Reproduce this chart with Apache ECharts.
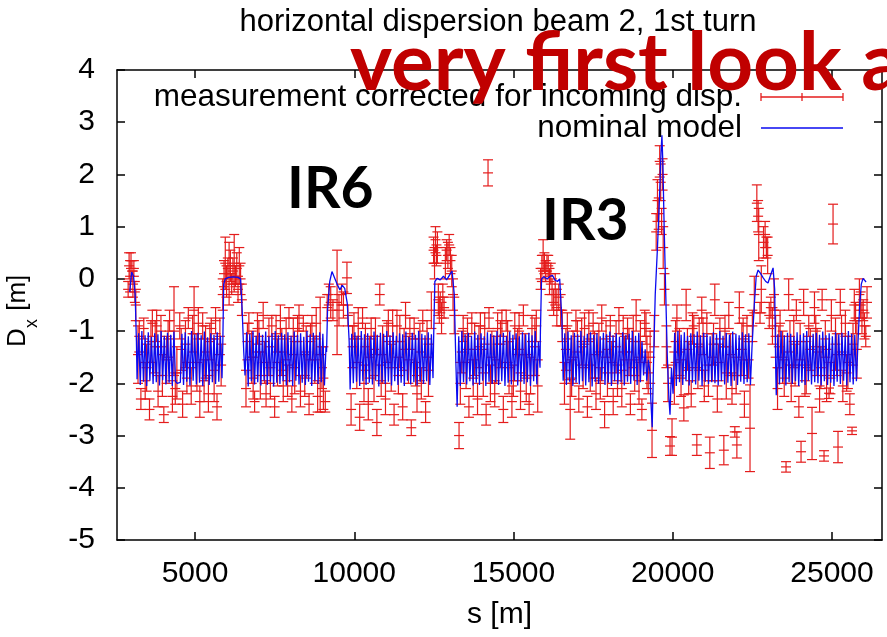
<!DOCTYPE html>
<html>
<head>
<meta charset="utf-8">
<title>horizontal dispersion beam 2, 1st turn</title>
<script src="https://cdn.jsdelivr.net/npm/echarts@6/dist/echarts.min.js"></script>
<style>
  html, body { margin: 0; padding: 0; background: #fff; }
  #chart { width: 887px; height: 637px; }
</style>
</head>
<body>
<div id="chart"></div>
<script>
// axis ticks
var xTicks = [5000, 10000, 15000, 20000, 25000];

// nominal model, arcs: [start s, end s] and dispersion values along the arc
var arcStart = [3180, 6570, 9870, 13230, 16560, 20010, 23250];
var arcEnd = [5847, 9113, 12472, 15832, 19286, 22489, 25817];
var arc1 = [-1.92,-1.04,-2.03,-1.0,-1.97,-1.08,-2.05,-1.02,-1.95,-1.11,-2.01,-1.04,-1.98,-1.06,-2.04,-1.0,-1.94,-1.09,-2.02,-1.03,-1.99,-1.07,-2.05,-1.01,-1.96,-2.0,-2.01,-1.98,-1.05,-2.03,-1.02,-1.97,-1.1,-2.04,-1.0,-1.95,-1.06,-2.02,-1.03,-1.99,-1.08,-2.05,-1.01,-1.96,-1.12,-2.03,-1.04,-1.98,-1.07,-2.01,-1.02,-1.97,-1.09,-1.9];
var arc2 = [-1.85,-1.02,-2.06,-1.05,-1.96,-1.0,-2.02,-1.09,-1.98,-1.03,-2.04,-1.07,-1.95,-1.01,-2.03,-1.1,-1.97,-1.04,-2.06,-1.0,-1.99,-1.08,-2.01,-1.03,-1.96,-1.06,-2.04,-1.02,-1.98,-1.09,-2.05,-1.01,-1.95,-1.07,-2.02,-1.04,-1.99,-1.11,-2.03,-1.0,-1.97,-1.06,-2.05,-1.03,-1.96,-1.08,-2.01,-1.02,-1.98,-1.05,-2.04,-1.3];
var arc3 = [-2.12,-1.05,-2.0,-1.02,-1.97,-1.09,-2.05,-1.0,-1.96,-1.06,-2.03,-1.04,-1.99,-1.1,-2.02,-1.01,-1.95,-1.07,-2.06,-1.03,-1.98,-1.05,-2.01,-1.0,-1.97,-1.08,-2.04,-1.02,-1.96,-1.09,-2.03,-1.04,-1.99,-1.06,-2.05,-1.01,-1.95,-1.11,-2.02,-1.03,-1.98,-1.07,-2.04,-1.0,-1.97,-1.05,-2.01,-1.08,-1.96,-1.02,-2.03,-1.06,-1.9];
var arc4 = [-2.45,-1.1,-2.05,-1.0,-1.98,-1.06,-2.02,-1.03,-1.96,-1.09,-2.04,-1.01,-1.99,-1.07,-2.03,-1.04,-1.95,-1.1,-2.05,-1.02,-1.97,-1.05,-2.01,-1.08,-1.98,-1.0,-2.03,-1.06,-1.96,-1.03,-2.05,-1.09,-1.99,-1.01,-2.02,-1.07,-1.95,-1.04,-2.04,-1.1,-1.97,-1.02,-2.01,-1.06,-1.98,-1.03,-2.05,-1.08,-1.96,-1.0,-2.02,-1.2,-1.7];
var arc5 = [-1.95,-1.04,-2.03,-1.01,-1.97,-1.08,-2.05,-1.03,-1.99,-1.06,-2.02,-1.0,-1.96,-1.09,-2.04,-1.05,-1.98,-1.02,-2.06,-1.07,-1.97,-1.04,-2.01,-1.1,-1.95,-1.03,-2.03,-1.06,-1.99,-1.01,-2.05,-1.08,-1.96,-1.04,-2.02,-1.11,-1.98,-1.02,-2.04,-1.07,-1.97,-1.05,-2.01,-1.0,-1.95,-1.09,-2.03,-1.03,-1.98,-1.2,-1.85,-1.35,-1.95,-1.55,-1.8];
var arc6 = [-2.2,-1.03,-2.05,-1.0,-1.98,-1.07,-2.03,-1.02,-1.96,-1.09,-2.04,-1.04,-1.99,-1.06,-2.02,-1.01,-1.95,-1.08,-2.05,-1.03,-1.97,-1.05,-2.01,-1.1,-1.98,-1.02,-2.0,-1.06,-2.04,-1.0,-1.96,-1.09,-2.02,-1.03,-1.99,-1.07,-2.05,-1.01,-1.95,-1.05,-2.03,-1.08,-1.97,-1.02,-2.01,-1.06,-1.98,-1.04,-2.03,-1.3];
var arc7 = [-2.23,-1.06,-2.02,-1.0,-1.97,-1.08,-2.04,-1.03,-1.98,-1.05,-2.01,-1.1,-1.96,-1.02,-2.05,-1.07,-1.99,-1.04,-2.03,-1.0,-1.95,-1.09,-2.02,-1.05,-1.98,-1.03,-2.0,-1.07,-2.04,-1.01,-1.96,-1.08,-2.03,-1.04,-1.99,-1.1,-2.05,-1.02,-1.97,-1.06,-2.01,-1.03,-1.95,-1.09,-2.04,-1.0,-1.98,-1.05,-2.02,-1.07,-1.96,-1.2];
var arcValues = [arc1, arc2, arc3, arc4, arc5, arc6, arc7];

// nominal model in the insertions [s, Dx]
var modelIR = [
  [2950,-0.25],[3010,0.13],[3070,0.05],[3120,-0.3],[3160,-1.2],
  [5870,-1.3],[5900,-0.1],[5950,0.0],[6050,0.03],[6200,0.04],[6350,0.03],[6430,0.0],[6480,-0.6],[6530,-1.4],
  [9130,-1.4],[9160,-0.6],[9230,-0.05],[9300,0.14],[9380,0.02],[9460,-0.1],[9550,-0.21],[9620,-0.12],[9700,-0.18],[9780,-0.47],[9840,-1.2],
  [12490,-1.2],[12530,-0.05],[12600,0.01],[12700,-0.02],[12800,0.05],[12900,-0.02],[13000,0.08],[13070,0.15],[13140,-0.3],[13190,-1.6],
  [15845,-1.0],[15880,0.0],[15950,0.04],[16050,0.0],[16150,0.05],[16220,0.07],[16300,-0.02],[16380,-0.05],[16450,0.0],[16520,-0.8],
  [19310,-2.3],[19355,-2.84],[19400,-1.5],[19450,-0.3],[19520,0.6],[19580,1.5],[19630,2.4],[19660,2.75],[19690,2.2],[19730,1.0],[19780,-0.3],[19830,-1.5],[19880,-2.3],[19914,-2.6],[19960,-1.7],
  [22505,-1.3],[22560,-0.5],[22620,0.05],[22680,0.17],[22760,0.1],[22840,0.02],[22920,-0.05],[22990,-0.08],[23060,0.05],[23150,0.21],[23200,-0.2],[23235,-1.8],
  [25835,-1.2],[25870,-0.5],[25920,-0.1],[25975,0.01],[26030,-0.02],[26070,-0.06]
];

// measurement corrected for incoming dispersion [s, Dx, error]
var measIR = [
  [2900,-0.2,0.15],[2930,0.25,0.25],[2960,0.05,0.3],[2990,0.35,0.15],[3020,0.15,0.2],[3050,-0.1,0.25],[3080,0.2,0.15],[3110,-0.25,0.2],[3140,-0.5,0.3],
  [5870,-0.3,0.3],[5910,0.1,0.25],[5950,0.3,0.5],[5990,-0.05,0.3],[6030,0.2,0.2],[6070,0.1,0.6],[6110,0.25,0.3],[6150,-0.1,0.2],[6190,0.15,0.25],[6230,0.3,0.55],[6270,0.05,0.2],[6310,0.2,0.3],[6350,-0.2,0.25],[6390,0.25,0.35],[6430,0.0,0.3],[6470,-0.4,0.3],
  [9150,-0.55,0.25],[9200,-0.3,0.2],[9260,-0.45,0.3],[9330,-0.6,0.2],[9460,-0.45,1.0],[9520,-0.6,0.3],[9600,-0.3,0.2],[9660,-0.5,0.25],[9770,0.02,0.3],[9800,-0.7,0.2],
  [12490,0.55,0.25],[12520,0.3,0.3],[12550,0.75,0.25],[12580,0.45,0.2],[12610,0.6,0.3],[12640,-0.4,0.3],[12670,-0.6,0.25],[12700,-0.45,0.2],[12740,-0.75,0.3],[12780,-0.35,0.25],[12820,-0.55,0.2],[12860,0.3,0.3],[12900,0.55,0.2],[12940,0.45,0.25],[12980,0.65,0.2],[13020,0.35,0.25],[13060,0.15,0.3],[13100,-0.3,0.3],[13140,-0.7,0.35],
  [14200,2.03,0.25],
  [15850,0.0,0.2],[15890,0.2,0.25],[15930,0.45,0.3],[15970,0.3,0.2],[16010,0.15,0.2],[16050,0.3,0.15],[16090,0.25,0.2],[16130,-0.05,0.25],[16170,0.1,0.2],[16210,-0.3,0.3],[16260,-0.45,0.25],[16310,-0.2,0.3],[16360,-0.55,0.35],[16420,-0.35,0.25],[16480,-0.6,0.3],[16530,-0.9,0.3],
  [19230,-1.8,0.4],[19290,-1.5,0.5],[19349,-2.9,0.52],[19420,-1.0,0.3],[19480,0.9,0.35],[19520,1.5,0.4],[19560,1.25,0.3],[19590,2.25,0.3],[19620,1.85,0.35],[19650,1.1,0.25],[19680,2.0,0.3],[19700,0.6,0.4],[19740,-0.2,0.3],[19800,-1.3,0.4],[19850,-2.0,0.35],[19914,-3.2,0.18],
  [22500,-0.9,0.3],[22560,-0.3,0.35],[22640,1.45,0.35],[22680,1.2,0.3],[22700,0.85,0.5],[22740,-0.65,0.2],[22780,-0.2,0.45],[22850,0.7,0.3],[22900,0.85,0.25],[22940,0.6,0.2],[22980,0.45,0.35],[23030,-0.7,0.25],[23080,-0.55,0.2],[23130,-0.9,0.35],[23180,-0.3,0.3],[23230,-1.1,0.4],
  [25860,-0.3,0.3],[25900,-0.5,0.25],[25940,-0.75,0.3],[25980,-0.6,0.2],[26020,-0.9,0.25],[26060,-1.1,0.2],[26100,-0.45,0.3]
];
var measArc = [
  [3210,-1.45,0.55],[3300,-2.3,0.2],[3390,-0.95,0.2],[3480,-1.7,0.45],[3570,-2.5,0.2],[3660,-0.85,0.25],[3750,-1.3,0.5],[3840,-2.15,0.3],[3930,-1.0,0.3],[4020,-2.6,0.15],[4110,-1.55,0.45],[4200,-0.8,0.2],[4290,-2.25,0.3],[4340,-1.0,0.85],[4430,-1.8,0.5],[4520,-0.9,0.25],[4610,-2.4,0.25],[4700,-1.25,0.45],[4790,-0.75,0.2],[4880,-2.05,0.35],[4970,-0.6,0.45],[5060,-1.6,0.55],[5150,-2.35,0.3],[5240,-0.9,0.25],[5330,-1.4,0.5],[5420,-2.2,0.35],[5510,-0.95,0.2],[5600,-1.75,0.6],[5690,-2.45,0.25],[5780,-1.1,0.35],
  [6600,-2.1,0.35],[6690,-0.85,0.2],[6780,-1.5,0.5],[6870,-2.35,0.2],[6960,-0.95,0.3],[7050,-1.85,0.45],[7140,-0.7,0.25],[7230,-2.2,0.25],[7320,-1.3,0.55],[7410,-0.9,0.2],[7500,-2.45,0.2],[7590,-1.6,0.45],[7680,-0.8,0.3],[7770,-2.05,0.3],[7860,-1.15,0.4],[7950,-0.75,0.2],[8040,-2.3,0.25],[8130,-1.7,0.5],[8220,-0.95,0.25],[8310,-2.15,0.3],[8400,-0.85,0.15],[8490,-1.4,0.5],[8580,-2.4,0.2],[8670,-0.9,0.2],[8760,-1.55,0.45],[8850,-2.25,0.3],[8930,-1.45,1.1],[9030,-1.9,0.6],[9090,-2.35,0.2],
  [9900,-2.5,0.3],[9990,-0.9,0.25],[10080,-1.6,0.5],[10170,-2.65,0.25],[10260,-0.75,0.2],[10350,-1.3,0.45],[10440,-2.4,0.3],[10530,-0.95,0.2],[10620,-1.85,0.5],[10710,-2.75,0.25],[10800,-0.3,0.2],[10890,-1.45,0.55],[10980,-2.3,0.3],[11070,-0.85,0.25],[11160,-1.7,0.45],[11250,-2.6,0.2],[11340,-0.9,0.3],[11430,-1.2,0.5],[11520,-2.45,0.25],[11610,-0.7,0.25],[11700,-1.55,0.45],[11790,-2.85,0.15],[11880,-0.95,0.2],[11970,-2.2,0.35],[12060,-1.4,0.55],[12150,-0.8,0.2],[12240,-2.55,0.2],[12330,-1.75,0.5],[12420,-0.6,0.35],
  [13290,-3.0,0.25],[13330,-2.0,0.4],[13420,-0.95,0.25],[13510,-1.6,0.5],[13600,-2.45,0.2],[13690,-0.85,0.2],[13780,-1.35,0.5],[13870,-2.3,0.3],[13960,-0.9,0.25],[14050,-1.8,0.45],[14140,-2.6,0.2],[14230,-0.75,0.2],[14320,-1.5,0.5],[14410,-2.2,0.25],[14500,-0.95,0.3],[14590,-1.25,0.45],[14680,-2.5,0.25],[14770,-0.8,0.2],[14860,-1.7,0.5],[14950,-2.35,0.3],[15040,-0.9,0.25],[15130,-1.45,0.5],[15220,-2.15,0.35],[15310,-0.7,0.2],[15400,-1.9,0.45],[15490,-2.4,0.2],[15580,-0.95,0.25],[15670,-1.3,0.55],[15760,-2.05,0.5],
  [16600,-2.0,0.4],[16690,-0.9,0.25],[16780,-2.5,0.57],[16870,-1.5,0.5],[16960,-0.8,0.2],[17050,-2.3,0.25],[17140,-1.2,0.45],[17230,-0.95,0.3],[17320,-2.45,0.2],[17410,-1.65,0.5],[17500,-0.85,0.2],[17590,-2.2,0.3],[17680,-1.4,0.55],[17770,-0.75,0.25],[17860,-2.6,0.25],[17950,-1.8,0.45],[18040,-0.9,0.2],[18130,-2.35,0.25],[18220,-1.3,0.5],[18310,-0.8,0.25],[18400,-2.1,0.35],[18490,-1.55,0.45],[18580,-0.95,0.2],[18670,-2.4,0.2],[18760,-1.2,0.5],[18850,-0.7,0.3],[18940,-1.95,0.45],[19030,-2.5,0.2],[19120,-0.85,0.25],[19190,-1.6,0.5],
  [19977,-3.03,0.35],[20050,-1.9,0.5],[20130,-0.75,0.25],[20210,-1.4,0.45],[20348,-2.47,0.25],[20420,-0.5,0.3],[20500,-1.7,0.5],[20580,-2.2,0.25],[20660,-0.9,0.2],[20756,-3.18,0.2],[20830,-1.25,0.5],[20910,-0.6,0.25],[20990,-2.05,0.3],[21070,-0.85,0.2],[21164,-3.33,0.3],[21240,-1.5,0.45],[21320,-0.4,0.3],[21400,-2.3,0.25],[21480,-0.95,0.2],[21604,-3.28,0.28],[21680,-1.8,0.5],[21760,-0.7,0.25],[21860,-2.1,0.3],[21949,-2.93,0.1],[22013,-3.18,0.25],[22090,-0.55,0.3],[22170,-1.35,0.5],[22250,-2.4,0.25],[22330,-0.9,0.2],[22426,-2.86,0.83],
  [23290,-2.1,0.4],[23370,-0.85,0.25],[23450,-1.5,0.5],[23557,-3.6,0.1],[23640,-0.3,0.3],[23720,-2.0,0.35],[23800,-1.2,0.5],[23880,-0.6,0.2],[23960,-2.45,0.2],[24028,-3.31,0.2],[24110,-0.45,0.25],[24190,-1.7,0.5],[24270,-0.9,0.2],[24373,-2.96,0.5],[24450,-0.55,0.3],[24530,-1.4,0.45],[24610,-2.3,0.25],[24690,-0.4,0.2],[24750,-3.39,0.1],[24830,-1.85,0.5],[24907,-2.19,0.1],[24980,-0.7,0.3],[25033,1.05,0.38],[25110,-1.25,0.5],[25189,-3.22,0.3],[25260,-0.45,0.25],[25340,-2.05,0.3],[25420,-0.85,0.25],[25500,-1.6,0.5],[25560,-2.4,0.2],[25629,-2.91,0.07],[25700,-0.5,0.3],[25780,-1.35,0.55]
];
// more arc monitors sitting inside the model band
var measArcBand = [
  [3250,-1.1,0.3],[3435,-1.95,0.35],[3615,-1.2,0.4],[3795,-0.9,0.3],[3975,-1.85,0.4],[4155,-1.15,0.35],[4380,-2.1,0.3],[4565,-1.35,0.4],[4745,-1.9,0.3],[4925,-1.05,0.35],[5105,-0.85,0.3],[5285,-1.95,0.4],[5465,-1.2,0.35],[5645,-0.8,0.25],[5820,-1.65,0.4],
  [6645,-1.2,0.35],[6825,-1.9,0.4],[7005,-1.1,0.3],[7185,-1.6,0.4],[7365,-2.0,0.3],[7545,-1.05,0.35],[7725,-1.4,0.45],[7905,-1.95,0.3],[8085,-1.1,0.35],[8265,-0.75,0.25],[8445,-1.85,0.4],[8625,-1.2,0.35],[8805,-0.85,0.3],[8985,-1.7,0.4],
  [9945,-1.3,0.4],[10125,-0.85,0.3],[10305,-2.0,0.35],[10485,-1.5,0.4],[10665,-1.1,0.35],[10845,-1.95,0.3],[11025,-1.2,0.4],[11205,-0.9,0.3],[11385,-1.85,0.35],[11565,-1.35,0.4],[11745,-1.05,0.3],[11925,-1.6,0.45],[12105,-2.0,0.3],[12285,-1.15,0.35],
  [13375,-1.4,0.4],[13555,-1.05,0.3],[13735,-1.9,0.35],[13915,-1.3,0.4],[14095,-0.95,0.3],[14275,-2.0,0.35],[14455,-1.55,0.45],[14635,-0.85,0.25],[14815,-1.2,0.4],[14995,-1.95,0.3],[15175,-1.0,0.35],[15355,-1.45,0.4],[15535,-1.85,0.35],[15715,-0.9,0.3],
  [16645,-1.35,0.4],[16825,-1.9,0.35],[17005,-1.1,0.3],[17185,-1.7,0.4],[17365,-0.9,0.3],[17545,-1.45,0.45],[17725,-2.0,0.3],[17905,-1.15,0.35],[18085,-1.6,0.4],[18265,-1.95,0.3],[18445,-1.05,0.35],[18625,-1.4,0.45],[18805,-1.85,0.3],[18985,-1.2,0.4],[19160,-0.95,0.3],
  [20090,-1.2,0.4],[20260,-1.9,0.35],[20460,-1.35,0.4],[20620,-0.95,0.3],[20790,-1.7,0.4],[20950,-1.1,0.35],[21120,-1.95,0.3],[21280,-1.25,0.4],[21440,-1.6,0.35],[21640,-1.0,0.3],[21810,-1.45,0.4],[21990,-1.85,0.35],[22210,-1.15,0.4],[22380,-1.55,0.35],
  [23330,-1.3,0.4],[23500,-1.9,0.35],[23680,-1.1,0.3],[23840,-1.65,0.4],[24000,-1.2,0.35],[24150,-1.95,0.3],[24320,-1.35,0.4],[24490,-1.0,0.3],[24650,-1.7,0.4],[24790,-1.15,0.35],[24950,-1.9,0.3],[25150,-1.45,0.4],[25300,-1.05,0.35],[25460,-1.8,0.35],[25660,-1.25,0.4],[25740,-0.75,0.3]
];

var RED = '#e41c1c';
var BLUE = '#0a0af0';
var FONT = 'Liberation Sans';

// model line: insertion points plus arcs (arc points sit at regular BPM spacing)
var model = modelIR.slice();
for (var a = 0; a < arcValues.length; a++) {
  var vals = arcValues[a];
  var step = (arcEnd[a] - arcStart[a]) / (vals.length - 1);
  for (var k = 0; k < vals.length; k++) {
    model.push([arcStart[a] + k * step, vals[k]]);
  }
}
model.sort(function (p, q) { return p[0] - q[0]; });

var measured = measIR.concat(measArc, measArcBand);

var myChart = echarts.init(document.getElementById('chart'));

// error bar with caps and centre tick, like gnuplot's "with errorbars"
function renderErrorBar(params, api) {
  var s = api.value(0), d = api.value(1), e = api.value(2);
  var hi = api.coord([s, d + e]);
  var lo = api.coord([s, d - e]);
  var mid = api.coord([s, d]);
  var w = 5;
  var st = { stroke: RED, lineWidth: 1.2 };
  return {
    type: 'group',
    children: [
      { type: 'line', shape: { x1: hi[0], y1: hi[1], x2: lo[0], y2: lo[1] }, style: st },
      { type: 'line', shape: { x1: hi[0] - w, y1: hi[1], x2: hi[0] + w, y2: hi[1] }, style: st },
      { type: 'line', shape: { x1: lo[0] - w, y1: lo[1], x2: lo[0] + w, y2: lo[1] }, style: st },
      { type: 'line', shape: { x1: mid[0] - w, y1: mid[1], x2: mid[0] + w, y2: mid[1] }, style: st }
    ]
  };
}

var axisLine = { show: true, onZero: false, lineStyle: { color: '#000', width: 1.5 } };
var tickLine = { color: '#000', width: 1.5 };

var option = {
  backgroundColor: '#fff',
  animation: false,
  grid: { left: 117, right: 5, top: 70, bottom: 97 },
  xAxis: [{
    type: 'value', min: 2550, max: 26570, position: 'bottom',
    axisLine: axisLine,
    axisTick: { show: true, inside: true, length: 8, customValues: xTicks, lineStyle: tickLine },
    axisLabel: {
      customValues: xTicks, color: '#000', fontFamily: FONT, fontSize: 30, margin: 19,
      formatter: function (v) { return String(v); }
    },
    splitLine: { show: false },
    name: 's [m]', nameLocation: 'middle', nameGap: 60,
    nameTextStyle: { color: '#000', fontFamily: FONT, fontSize: 30 }
  }, {
    type: 'value', min: 2550, max: 26570, position: 'top',
    axisLine: axisLine,
    axisTick: { show: true, inside: true, length: 8, customValues: xTicks, lineStyle: tickLine },
    axisLabel: { show: false },
    splitLine: { show: false }
  }],
  yAxis: [{
    type: 'value', min: -5, max: 4, interval: 1, position: 'left',
    axisLine: axisLine,
    axisTick: { show: true, inside: true, length: 8, lineStyle: tickLine },
    axisLabel: { color: '#000', fontFamily: FONT, fontSize: 30, margin: 22 },
    splitLine: { show: false }
  }, {
    type: 'value', min: -5, max: 4, interval: 1, position: 'right',
    axisLine: axisLine,
    axisTick: { show: true, inside: true, length: 8, lineStyle: tickLine },
    axisLabel: { show: false },
    splitLine: { show: false }
  }],
  series: [{
    name: 'measurement corrected for incoming disp.',
    type: 'custom',
    renderItem: renderErrorBar,
    data: measured,
    encode: { x: 0, y: 1 },
    clip: true,
    z: 2
  }, {
    name: 'nominal model',
    type: 'line',
    data: model,
    showSymbol: false,
    symbol: 'none',
    lineStyle: { color: BLUE, width: 1.3 },
    clip: true,
    z: 3
  }],
  graphic: [
    { type: 'text', x: 498, y: 22, z: 50,
      style: { text: 'horizontal dispersion beam 2, 1st turn', fill: '#000', fontFamily: FONT, fontSize: 31, align: 'center', verticalAlign: 'middle' } },
    // legend
    { type: 'text', x: 742, y: 97, z: 50,
      style: { text: 'measurement corrected for incoming disp.', fill: '#000', fontFamily: FONT, fontSize: 31.5, align: 'right', verticalAlign: 'middle' } },
    { type: 'text', x: 742, y: 128, z: 50,
      style: { text: 'nominal model', fill: '#000', fontFamily: FONT, fontSize: 31.5, align: 'right', verticalAlign: 'middle' } },
    { type: 'line', z: 50, shape: { x1: 761, y1: 97, x2: 843, y2: 97 }, style: { stroke: RED, lineWidth: 1.3 } },
    { type: 'line', z: 50, shape: { x1: 761, y1: 93, x2: 761, y2: 101 }, style: { stroke: RED, lineWidth: 1.3 } },
    { type: 'line', z: 50, shape: { x1: 802, y1: 93, x2: 802, y2: 101 }, style: { stroke: RED, lineWidth: 1.3 } },
    { type: 'line', z: 50, shape: { x1: 843, y1: 93, x2: 843, y2: 101 }, style: { stroke: RED, lineWidth: 1.3 } },
    { type: 'line', z: 50, shape: { x1: 761, y1: 128, x2: 843, y2: 128 }, style: { stroke: BLUE, lineWidth: 1.3 } },
    // y axis name D_x [m]
    { type: 'group', x: 18, y: 347, rotation: Math.PI / 2, z: 50,
      children: [
        { type: 'text', x: 0, y: 0, style: { text: 'D', fill: '#000', fontFamily: FONT, fontSize: 26, verticalAlign: 'middle' } },
        { type: 'text', x: 19, y: 14, style: { text: 'x', fill: '#000', fontFamily: FONT, fontSize: 18, verticalAlign: 'middle' } },
        { type: 'text', x: 29, y: 0, style: { text: ' [m]', fill: '#000', fontFamily: FONT, fontSize: 26, verticalAlign: 'middle' } }
      ] },
    // slide annotations
    { type: 'text', x: 287, y: 190, z: 60,
      style: { text: 'IR6', fill: '#000', fontFamily: 'Lato', fontWeight: 'bold', fontSize: 57, verticalAlign: 'middle' } },
    { type: 'text', x: 542, y: 222, z: 60,
      style: { text: 'IR3', fill: '#000', fontFamily: 'Lato', fontWeight: 'bold', fontSize: 57, verticalAlign: 'middle' } },
    { type: 'text', x: 350, y: 64, z: 60,
      style: { text: 'very first look a', fill: '#c00000', fontFamily: 'Lato', fontWeight: 'bold', fontSize: 80, verticalAlign: 'middle' } }
  ]
};

myChart.setOption(option);
</script>
</body>
</html>
